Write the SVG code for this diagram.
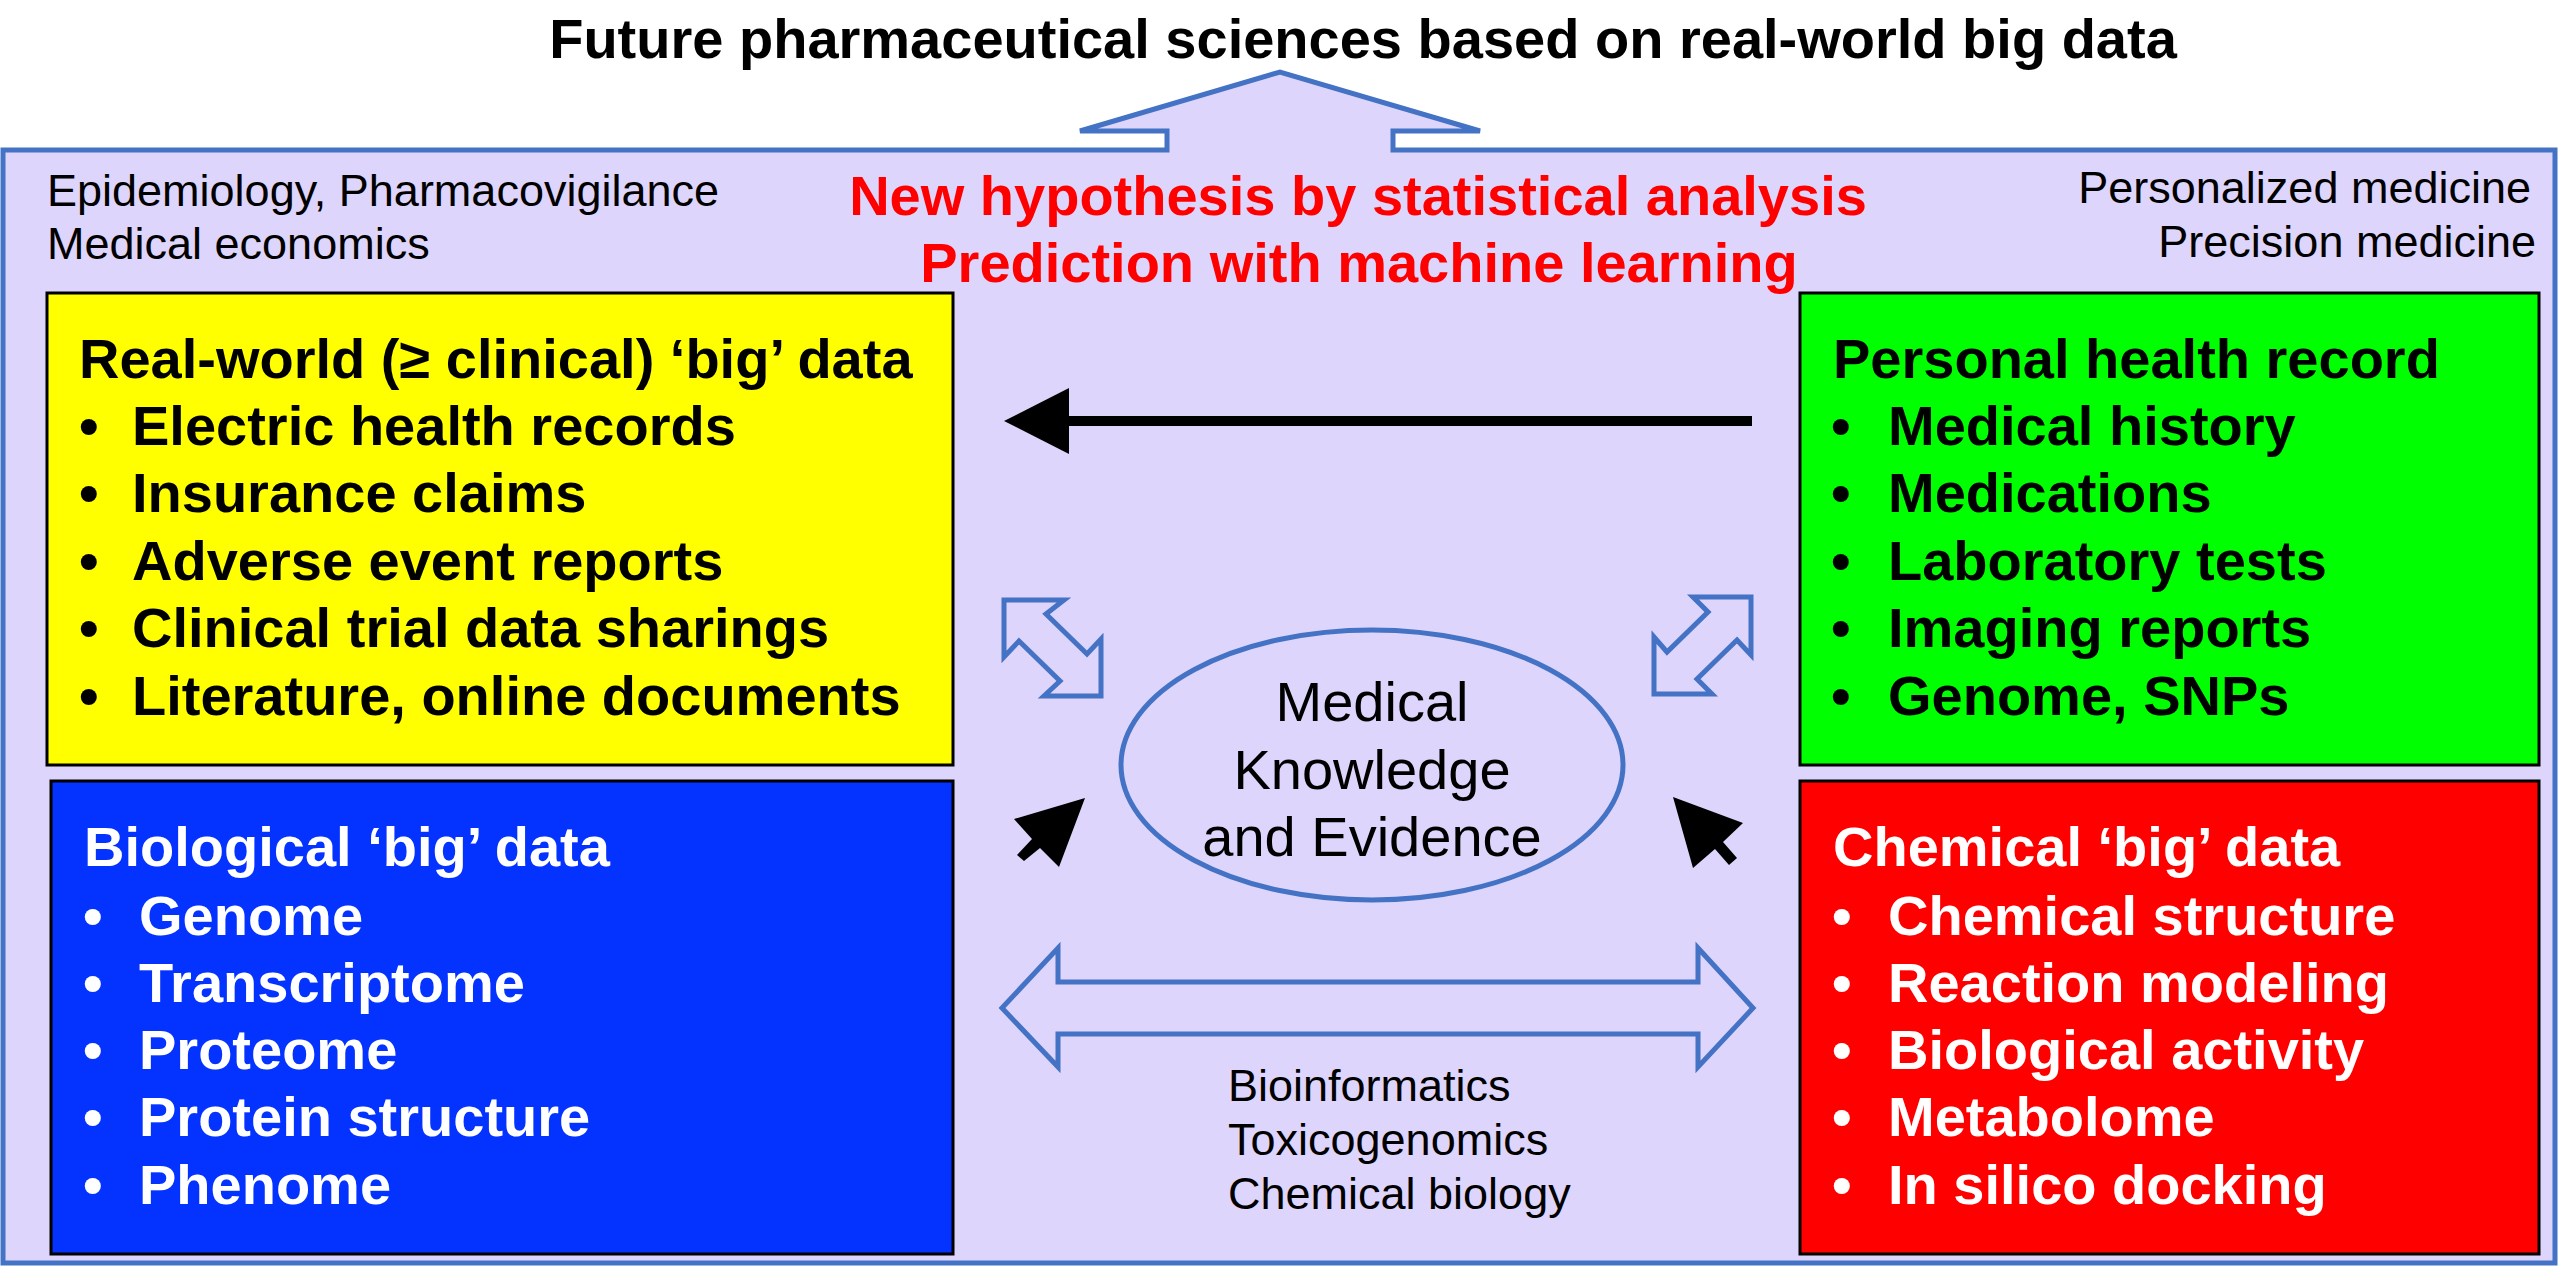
<svg xmlns="http://www.w3.org/2000/svg" width="2560" height="1274" viewBox="0 0 2560 1274">
<style>
text{font-family:"Liberation Sans",Arial,sans-serif}
.b{font-weight:bold;font-size:56px}
.r{font-size:45px}
.m{font-size:56px}
.blk{fill:#000}
.wht{fill:#fff}
.red{fill:#FF0000}
.box{stroke:#000;stroke-width:3}
.bl{fill:none;stroke:#4472C4;stroke-width:5;stroke-linejoin:miter}
</style>
<rect width="2560" height="1274" fill="#fff"/>
<g id="frame">
<path d="M3,150 H1167 V131 H1080 L1280,72 L1480,131 H1393 V150 H2555 V1263 H3 Z" fill="#DDD5FB" stroke="#4472C4" stroke-width="5"/>
</g>
<g id="title"><text class="b blk" x="1363" y="58" text-anchor="middle">Future pharmaceutical sciences based on real-world big data</text></g>
<g id="left-notes" class="r blk">
<text class="r" x="47" y="206">Epidemiology, Pharmacovigilance</text>
<text class="r" x="47" y="259">Medical economics</text>
</g>
<g id="right-notes">
<text class="r blk" x="2531" y="203" text-anchor="end">Personalized medicine</text>
<text class="r blk" x="2536" y="257" text-anchor="end">Precision medicine</text>
</g>
<g id="hypothesis">
<text class="b red" x="1358" y="215" text-anchor="middle">New hypothesis by statistical analysis</text>
<text class="b red" x="1359" y="282" text-anchor="middle">Prediction with machine learning</text>
</g>
<g id="realworld">
<rect class="box" x="47" y="293" width="906" height="472" fill="#FFFF00"/>
<text class="b blk" x="79" y="378">Real-world (≥ clinical) ‘big’ data</text>
<g class="b blk">
<text x="79" y="445">•</text><text x="132" y="445">Electric health records</text>
<text x="79" y="512">•</text><text x="132" y="512">Insurance claims</text>
<text x="79" y="580">•</text><text x="132" y="580">Adverse event reports</text>
<text x="79" y="647">•</text><text x="132" y="647">Clinical trial data sharings</text>
<text x="79" y="715">•</text><text x="132" y="715">Literature, online documents</text>
</g>
</g>
<g id="personal">
<rect class="box" x="1800" y="293" width="739" height="472" fill="#00FF00"/>
<text class="b blk" x="1833" y="378">Personal health record</text>
<g class="b blk">
<text x="1831" y="445">•</text><text x="1888" y="445">Medical history</text>
<text x="1831" y="512">•</text><text x="1888" y="512">Medications</text>
<text x="1831" y="580">•</text><text x="1888" y="580">Laboratory tests</text>
<text x="1831" y="647">•</text><text x="1888" y="647">Imaging reports</text>
<text x="1831" y="715">•</text><text x="1888" y="715">Genome, SNPs</text>
</g>
</g>
<g id="biological">
<rect class="box" x="51" y="781" width="902" height="473" fill="#0432FF"/>
<text class="b wht" x="84" y="866">Biological ‘big’ data</text>
<g class="b wht">
<text x="83" y="935">•</text><text x="139" y="935">Genome</text>
<text x="83" y="1002">•</text><text x="139" y="1002">Transcriptome</text>
<text x="83" y="1069">•</text><text x="139" y="1069">Proteome</text>
<text x="83" y="1136">•</text><text x="139" y="1136">Protein structure</text>
<text x="83" y="1204">•</text><text x="139" y="1204">Phenome</text>
</g>
</g>
<g id="chemical">
<rect class="box" x="1800" y="781" width="739" height="473" fill="#FF0000"/>
<text class="b wht" x="1833" y="866">Chemical ‘big’ data</text>
<g class="b wht">
<text x="1832" y="935">•</text><text x="1888" y="935">Chemical structure</text>
<text x="1832" y="1002">•</text><text x="1888" y="1002">Reaction modeling</text>
<text x="1832" y="1069">•</text><text x="1888" y="1069">Biological activity</text>
<text x="1832" y="1136">•</text><text x="1888" y="1136">Metabolome</text>
<text x="1832" y="1204">•</text><text x="1888" y="1204">In silico docking</text>
</g>
</g>
<g id="knowledge">
<ellipse cx="1372" cy="765" rx="251" ry="135" class="bl"/>
<text class="m blk" x="1372" y="721" text-anchor="middle">Medical</text>
<text class="m blk" x="1372" y="789" text-anchor="middle">Knowledge</text>
<text class="m blk" x="1372" y="856" text-anchor="middle">and Evidence</text>
</g>
<g id="fields">
<text class="r blk" x="1228" y="1101">Bioinformatics</text>
<text class="r blk" x="1228" y="1155">Toxicogenomics</text>
<text class="r blk" x="1228" y="1209">Chemical biology</text>
</g>
<g id="connectors">
<line x1="1752" y1="421" x2="1060" y2="421" stroke="#000" stroke-width="10"/>
<polygon points="1004,421 1069,388 1069,454" fill="#000"/>
<polygon class="bl" points="1002,1008 1058,948 1058,982 1698,982 1698,948 1753,1008 1698,1067 1698,1034 1058,1034 1058,1067"/>
<polygon class="bl" points="1004,600 1064,600 1046,614 1087,654 1101,639 1101,696 1044,696 1060,681 1019,641 1004,657"/>
<polygon class="bl" points="1751,597 1693,597 1708,612 1667,652 1654,637 1654,694 1712,694 1697,679 1737,640 1751,655"/>
<polygon points="1085,798 1014,819 1032,839 1017,855 1024,861 1040,848 1059,867" fill="#000"/>
<polygon points="1673,797 1743,823 1723,842 1737,858 1729,865 1715,849 1693,868" fill="#000"/>
</g>
</svg>
